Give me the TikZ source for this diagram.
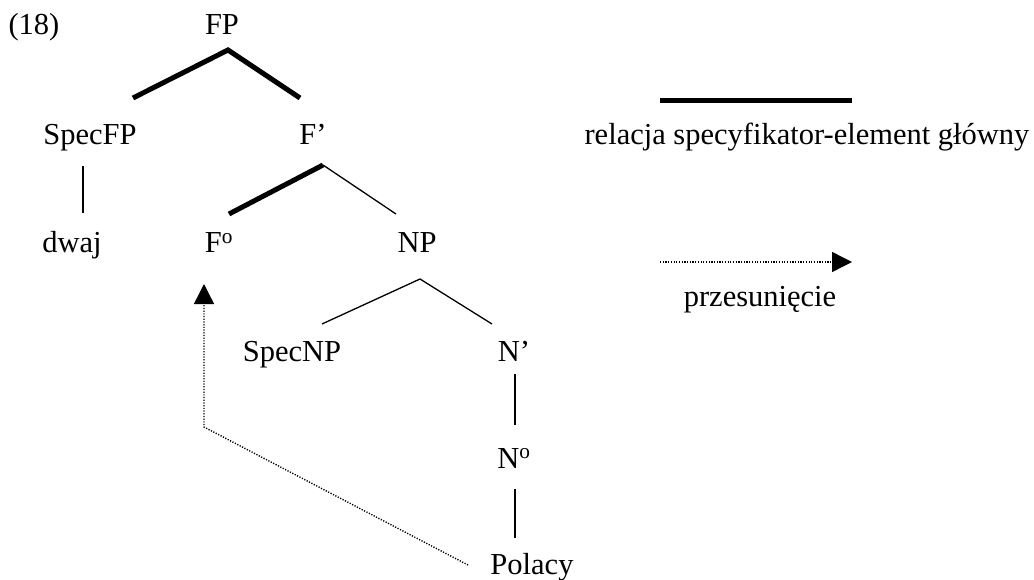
\documentclass[tikz,border=0pt]{standalone}
\usepackage{fontspec}
\setmainfont{Liberation Serif}
\usetikzlibrary{arrows.meta}
\begin{document}
\begin{tikzpicture}[x=1pt,y=-1pt,
  lbl/.style={font=\fontsize{30.5}{34}\selectfont, inner sep=0pt, anchor=base},
  thin/.style={line width=1.3pt},
  heavy/.style={line width=5pt},
  move/.style={line width=1.4pt, dash pattern=on 1.2pt off 1.5pt,
    -{Triangle[length=20pt,width=20pt]}}]
\useasboundingbox (0,0) rectangle (1034,580);

% labels
\node[lbl] (ex)     at (34,35)   {(18)};
\node[lbl] (FP)     at (222,35)  {FP};
\node[lbl] (SpecFP) at (90,145)  {SpecFP};
\node[lbl] (Fbar)   at (313,145) {F’};
\node[lbl] (dwaj)   at (72,253)  {dwaj};
\node[lbl] (Fo)     at (219,253) {F\textsuperscript{o}};
\node[lbl] (NP)     at (417,253) {NP};
\node[lbl] (SpecNP) at (292,361) {SpecNP};
\node[lbl] (Nbar)   at (514,361) {N’};
\node[lbl] (No)     at (514,468) {N\textsuperscript{o}};
\node[lbl] (Pol)    at (532,574) {Polacy};
\node[lbl] (rel)    at (807,145) {relacja specyfikator-element główny};
\node[lbl] (mov)    at (760,306) {przesunięcie};

% edge end points
\coordinate (FPt)  at (228,50);
\coordinate (FPl)  at (133,98);
\coordinate (FPr)  at (300,98);
\coordinate (Ft)   at (323,165);
\coordinate (Fl)   at (229,214);
\coordinate (Fr)   at (396,214);
\coordinate (St)   at (83,166);
\coordinate (Sb)   at (83,213);
\coordinate (Nt)   at (420,279);
\coordinate (Nl)   at (322,324);
\coordinate (Nr)   at (492,324);
\coordinate (N1t)  at (515,374);
\coordinate (N1b)  at (515,425);
\coordinate (N2t)  at (515,489);
\coordinate (N2b)  at (515,538);
\coordinate (Ms)   at (468,565);
\coordinate (Mk)   at (204,427);
\coordinate (Me)   at (204,284);
\coordinate (L1a)  at (660,101);
\coordinate (L1b)  at (852,101);
\coordinate (L2a)  at (660,262);
\coordinate (L2b)  at (852,262);

% tree branches
\draw[heavy] (FPl) -- (FPt) -- (FPr);
\draw[heavy] (Fl) -- (Ft);
\draw[thin] (Ft) -- (Fr);
\draw[thin] (St) -- (Sb);
\draw[thin] (Nl) -- (Nt) -- (Nr);
\draw[thin] (N1t) -- (N1b);
\draw[thin] (N2t) -- (N2b);

% movement path
\draw[move] (Ms) -- (Mk) -- (Me);

% key
\draw[heavy] (L1a) -- (L1b);
\draw[move] (L2a) -- (L2b);
\end{tikzpicture}
\end{document}
